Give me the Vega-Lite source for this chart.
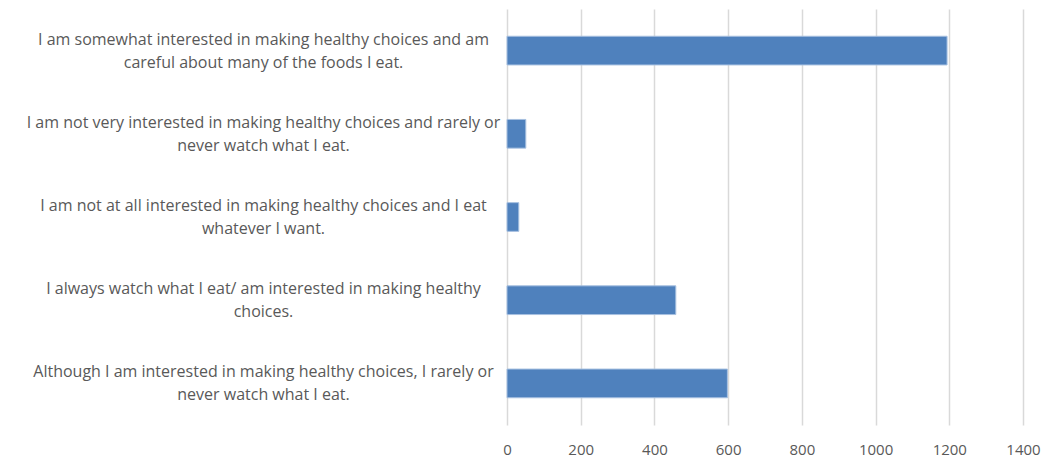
{
  "$schema": "https://vega.github.io/schema/vega-lite/v6.json",
  "width": 516,
  "height": 416,
  "autosize": {"type": "none"},
  "padding": {"left": 507, "top": 9, "right": 31, "bottom": 34},
  "background": "white",
  "config": {
    "view": {"stroke": null},
    "font": "Open Sans"
  },
  "data": {
    "values": [
      {"response": "I am somewhat interested in making healthy choices and am\ncareful about many of the foods I eat.", "count": 1194},
      {"response": "I am not very interested in making healthy choices and rarely or\nnever watch what I eat.", "count": 51},
      {"response": "I am not at all interested in making healthy choices and I eat\nwhatever I want.", "count": 32},
      {"response": "I always watch what I eat/ am interested in making healthy\nchoices.", "count": 458},
      {"response": "Although I am interested in making healthy choices, I rarely or\nnever watch what I eat.", "count": 598}
    ]
  },
  "mark": {"type": "bar", "color": "#4f81bd", "stroke": "#a7c0e0", "strokeWidth": 1},
  "encoding": {
    "y": {
      "field": "response",
      "type": "nominal",
      "sort": null,
      "scale": {"paddingInner": 0.655, "paddingOuter": 0.3275},
      "axis": {
        "title": null,
        "domain": false,
        "ticks": false,
        "labelAlign": "center",
        "labelBaseline": "middle",
        "labelPadding": 244,
        "labelOffset": -11,
        "labelLimit": 0,
        "labelFontSize": 16,
        "labelColor": "#595959",
        "labelLineHeight": 23,
        "labelExpr": "split(datum.label, '\\n')"
      }
    },
    "x": {
      "field": "count",
      "type": "quantitative",
      "scale": {"domain": [0, 1400], "nice": false},
      "axis": {
        "title": null,
        "domain": false,
        "ticks": false,
        "values": [0, 200, 400, 600, 800, 1000, 1200, 1400],
        "format": "d",
        "grid": true,
        "gridColor": "#d9d9d9",
        "gridWidth": 1.5,
        "labelPadding": 17,
        "labelFontSize": 15,
        "labelColor": "#595959",
        "labelFlush": false
      }
    }
  }
}
